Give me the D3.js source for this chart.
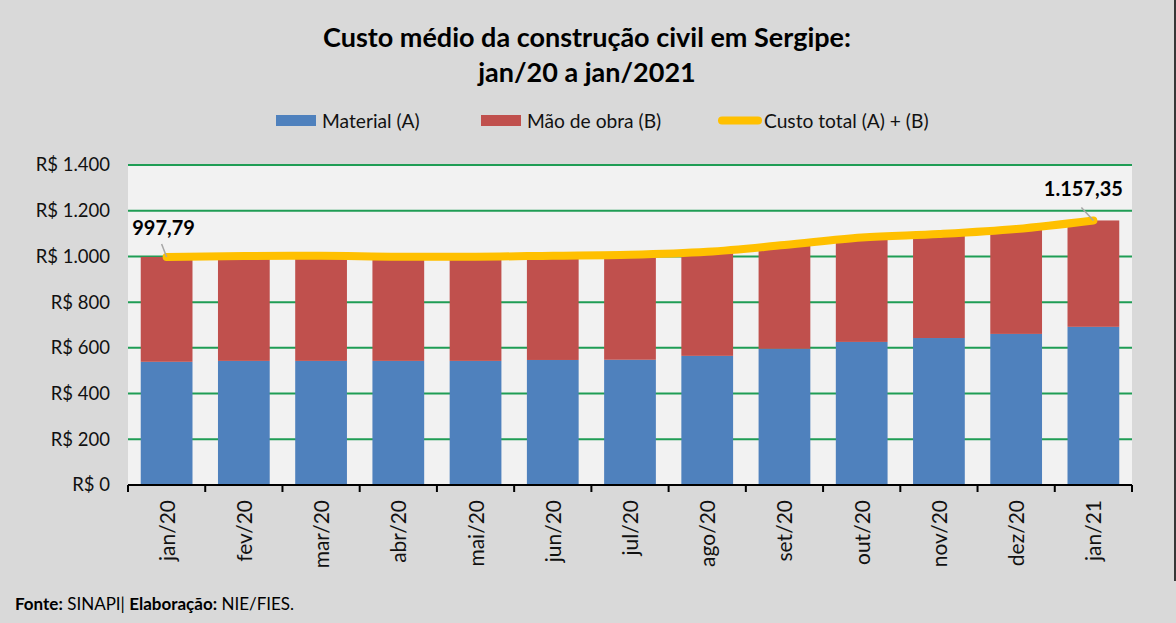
<!DOCTYPE html>
<html><head><meta charset="utf-8">
<script src="https://cdn.jsdelivr.net/npm/d3@7"></script>
<style>
html,body{margin:0;padding:0;background:#d9d9d9;}
svg{display:block;}
text{font-family:Lato,"Open Sans",sans-serif;}
</style></head>
<body>
<svg id="c" width="1176" height="623"></svg>
<script>
const categories = ["jan/20","fev/20","mar/20","abr/20","mai/20","jun/20","jul/20","ago/20","set/20","out/20","nov/20","dez/20","jan/21"];
const material = [539, 543, 543, 543, 543, 547, 548, 565, 596, 626, 643, 661, 692];
const total = [997.79, 1002, 1003, 999, 999, 1003, 1007, 1020, 1050, 1083, 1098, 1120, 1157.35];
const maoDeObra = total.map((t, i) => +(t - material[i]).toFixed(2));
const yTicks = [0, 200, 400, 600, 800, 1000, 1200, 1400];
const titleLines = ["Custo médio da construção civil em Sergipe:", "jan/20 a jan/2021"];
const legendLabels = ["Material (A)", "Mão de obra (B)", "Custo total (A) + (B)"];
const footerBold1 = "Fonte:", footerText1 = " SINAPI| ", footerBold2 = "Elaboração:", footerText2 = " NIE/FIES.";

(function(){
const colors = {mat:"#4f81bd", mao:"#c0504d", tot:"#ffc000", grid:"#1f9d55"};
const svg = d3.select("#c");
const pL = 128, pR = 1132, pT = 165, pB = 485;

svg.append("rect").attr("width",1176).attr("height",623).attr("fill","#d9d9d9");
svg.append("line").attr("x1",1175).attr("x2",1175).attr("y1",0).attr("y2",581).attr("stroke","#000").attr("stroke-width",1.5);

const x = d3.scaleBand().domain(categories).range([pL, pR]).paddingInner(0.33).paddingOuter(0.165);
const y = d3.scaleLinear().domain([0, 1400]).range([pB, pT]);

svg.append("rect").attr("x",pL).attr("y",pT).attr("width",pR-pL).attr("height",pB-pT).attr("fill","#f2f2f2");

svg.append("g").selectAll("line").data(yTicks.filter(d=>d>0)).join("line")
  .attr("x1",pL).attr("x2",pR).attr("y1",d=>y(d)).attr("y2",d=>y(d))
  .attr("stroke",colors.grid).attr("stroke-width",2);

const fmt = d => "R$ " + d3.format(",")(d).replace(/,/g, ".");
svg.append("g").selectAll("text").data(yTicks).join("text")
  .attr("x",110).attr("y",d=>y(d)).attr("dy","0.35em").attr("text-anchor","end")
  .attr("font-size",18.5).attr("fill","#111").text(fmt);

const bw = x.bandwidth();
svg.append("g").selectAll("rect").data(categories).join("rect")
  .attr("x",d=>x(d)).attr("width",bw)
  .attr("y",(d,i)=>y(material[i])).attr("height",(d,i)=>y(0)-y(material[i]))
  .attr("fill",colors.mat);
svg.append("g").selectAll("rect").data(categories).join("rect")
  .attr("x",d=>x(d)).attr("width",bw)
  .attr("y",(d,i)=>y(material[i]+maoDeObra[i])).attr("height",(d,i)=>y(material[i])-y(material[i]+maoDeObra[i]))
  .attr("fill",colors.mao);

const xAxis = svg.append("g");
xAxis.append("line").attr("x1",pL).attr("x2",pR).attr("y1",pB).attr("y2",pB).attr("stroke","#000").attr("stroke-width",2);
const step = x.step();
xAxis.selectAll("line.tk").data(d3.range(categories.length+1)).join("line").attr("class","tk")
  .attr("x1",i=>pL+i*step).attr("x2",i=>pL+i*step).attr("y1",pB).attr("y2",pB+7)
  .attr("stroke","#000").attr("stroke-width",2);
xAxis.selectAll("text").data(categories).join("text")
  .attr("transform",d=>`translate(${x(d)+bw/2+8},${pB+15}) rotate(-90)`)
  .attr("text-anchor","end").attr("font-size",21).attr("fill","#111").text(d=>d);

const line = d3.line().x((d,i)=>x(categories[i])+bw/2).y(d=>y(d)).curve(d3.curveMonotoneX);
svg.append("path").datum(total).attr("d",line).attr("fill","none")
  .attr("stroke",colors.tot).attr("stroke-width",8).attr("stroke-linecap","round").attr("stroke-linejoin","round");

const fmtVal = v => d3.format(",.2f")(v).replace(/,/g,"#").replace(/\./g,",").replace(/#/g,".");
const lbls = [{i:0, dx:-3, dy:-29, lx:-5, ly:-13}, {i:12, dx:-10, dy:-31, lx:-12, ly:-13}];
lbls.forEach(l=>{
  const cx = x(categories[l.i])+bw/2, cy = y(total[l.i]);
  svg.append("line").attr("x1",cx+l.lx).attr("y1",cy+l.ly).attr("x2",cx).attr("y2",cy)
    .attr("stroke","#a6a6a6").attr("stroke-width",1.5);
  svg.append("text").attr("x",cx+l.dx).attr("y",cy+l.dy).attr("dy","0.35em").attr("text-anchor","middle")
    .attr("font-size",20).attr("font-weight","bold").attr("fill","#000").text(fmtVal(total[l.i]));
});

svg.append("g").selectAll("text").data(titleLines).join("text")
  .attr("x",587).attr("y",(d,i)=>38+i*35).attr("dy","0.35em").attr("text-anchor","middle")
  .attr("font-size",27).attr("font-weight","bold").attr("fill","#000").text(d=>d);

const lg = svg.append("g");
const lx = [276, 481, 718];
lg.append("rect").attr("x",lx[0]).attr("y",115).attr("width",40).attr("height",11).attr("fill",colors.mat);
lg.append("rect").attr("x",lx[1]).attr("y",115).attr("width",40).attr("height",11).attr("fill",colors.mao);
lg.append("line").attr("x1",lx[2]+4).attr("x2",lx[2]+40).attr("y1",120.5).attr("y2",120.5).attr("stroke",colors.tot).attr("stroke-width",8).attr("stroke-linecap","round");
lg.selectAll("text").data(legendLabels).join("text")
  .attr("x",(d,i)=>lx[i]+46).attr("y",121).attr("dy","0.35em").attr("font-size",19.2).attr("fill","#111").text(d=>d);

const ft = svg.append("text").attr("x",15).attr("y",604).attr("dy","0.35em").attr("font-size",17).attr("fill","#000");
ft.append("tspan").attr("font-weight","bold").text(footerBold1);
ft.append("tspan").text(footerText1);
ft.append("tspan").attr("font-weight","bold").text(footerBold2);
ft.append("tspan").text(footerText2);
})();
</script>
</body></html>
